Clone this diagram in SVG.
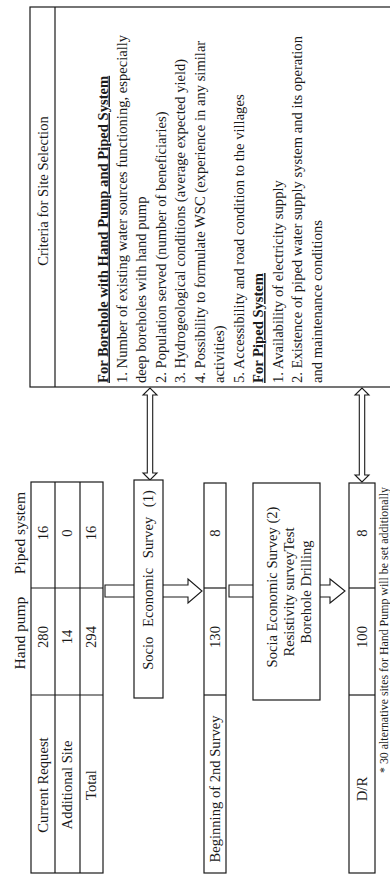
<svg xmlns="http://www.w3.org/2000/svg" width="390" height="876" viewBox="0 0 390 876">
<style>
.t{font-family:"Liberation Serif","Times New Roman",serif;font-size:14.6px;fill:#1a1a1a}
.m{text-anchor:middle}
.b{font-weight:bold;text-decoration:underline}
.box{fill:#fff;stroke:#1a1a1a;stroke-width:1.2}
.ln{stroke:#1a1a1a;stroke-width:1.2;fill:none}
.arr{fill:#fff;stroke:#1a1a1a;stroke-width:1.1;stroke-linejoin:miter}
.fn{font-size:11.9px}
.hd{font-size:15.5px}
</style>
<rect width="390" height="876" fill="#fff"/>
<g transform="translate(0,876) rotate(-90)">
  <g id="connectors">
    <polygon class="arr" points="279,105 279,188 273,188 285,202 297,188 291,188 291,105"/>
    <polygon class="arr" points="279,229 279,330 273,330 285,345 297,330 291,330 291,229"/>
    <polygon class="arr" points="396,150 403,143 403,147.3 481,147.3 481,143 488,150 481,157 481,152.7 403,152.7 403,157"/>
    <polygon class="arr" points="394,362 401,355 401,359.3 481,359.3 481,355 488,362 481,369 481,364.7 401,364.7 401,369"/>
  </g>
  <g id="criteria">
    <rect class="box" x="489" y="30" width="380" height="362"/>
    <line class="ln" x1="489" y1="55" x2="869" y2="55"/>
    <text class="t m" x="685" y="47.5">Criteria for Site Selection</text>
    <text class="t b" x="493" y="107.5">For Borehole with Hand Pump and Piped System</text>
    <text class="t" x="493" y="127">1. Number of existing water sources functioning, especially</text>
    <text class="t" x="493" y="146.4">deep boreholes with hand pump</text>
    <text class="t" x="493" y="165.9">2. Population served (number of beneficiaries)</text>
    <text class="t" x="493" y="185.3">3. Hydrogeological conditions (average expected yield)</text>
    <text class="t" x="493" y="204.8">4. Possibility to formulate WSC (experience in any similar</text>
    <text class="t" x="493" y="224.2">activities)</text>
    <text class="t" x="493" y="243.7">5. Accessibility and road condition to the villages</text>
    <text class="t b" x="493" y="263.1">For Piped System</text>
    <text class="t" x="493" y="282.6">1. Availability of electricity supply</text>
    <text class="t" x="493" y="302">2. Existence of piped water supply system and its operation</text>
    <text class="t" x="493" y="321.5">and maintenance conditions</text>
  </g>
  <g id="initial-table">
    <text class="t m hd" x="243" y="25">Hand pump</text>
    <text class="t m hd" x="343" y="25">Piped system</text>
    <rect class="box" x="3" y="31" width="391" height="72"/>
    <line class="ln" x1="3" y1="55" x2="394" y2="55"/>
    <line class="ln" x1="3" y1="80" x2="394" y2="80"/>
    <line class="ln" x1="181" y1="31" x2="181" y2="103"/>
    <line class="ln" x1="288" y1="31" x2="288" y2="103"/>
    <text class="t m" x="91" y="47.5">Current Request</text>
    <text class="t m" x="91" y="72">Additional Site</text>
    <text class="t m" x="91" y="96">Total</text>
    <text class="t m" x="239" y="47.5">280</text>
    <text class="t m" x="239" y="72">14</text>
    <text class="t m" x="239" y="96">294</text>
    <text class="t m" x="343" y="47.5">16</text>
    <text class="t m" x="343" y="72">0</text>
    <text class="t m" x="343" y="96">16</text>
  </g>
  <g id="socio-survey-1">
    <rect class="box" x="178" y="134" width="218" height="29"/>
    <text class="t m" x="296" y="153" style="word-spacing:6px">Socio Economic Survey (1)</text>
  </g>
  <g id="beginning-2nd-survey">
    <rect class="box" x="3" y="204" width="390" height="22"/>
    <line class="ln" x1="181" y1="204" x2="181" y2="226"/>
    <line class="ln" x1="288" y1="204" x2="288" y2="226"/>
    <text class="t m" x="87" y="219.5">Beginning of 2nd Survey</text>
    <text class="t m" x="239" y="219.5">130</text>
    <text class="t m" x="343" y="219.5">8</text>
  </g>
  <g id="socio-survey-2">
    <rect class="box" x="176" y="253" width="217" height="67"/>
    <text class="t m" x="289" y="276.5">Socia Economic Survey (2)</text>
    <text class="t m" x="284" y="293.5">Resistivity surveyTest</text>
    <text class="t m" x="284" y="310.5">Borehole Drilling</text>
  </g>
  <g id="dr">
    <rect class="box" x="3" y="349" width="390" height="26"/>
    <line class="ln" x1="181" y1="349" x2="181" y2="375"/>
    <line class="ln" x1="288" y1="349" x2="288" y2="375"/>
    <text class="t m" x="87" y="366.5">D/R</text>
    <text class="t m" x="239" y="366.5">100</text>
    <text class="t m" x="343" y="366.5">8</text>
  </g>
  <g id="footnote">
    <text class="t fn" x="103" y="388">* 30 alternative sites for Hand Pump will be set additionally</text>
  </g>
</g>
</svg>
